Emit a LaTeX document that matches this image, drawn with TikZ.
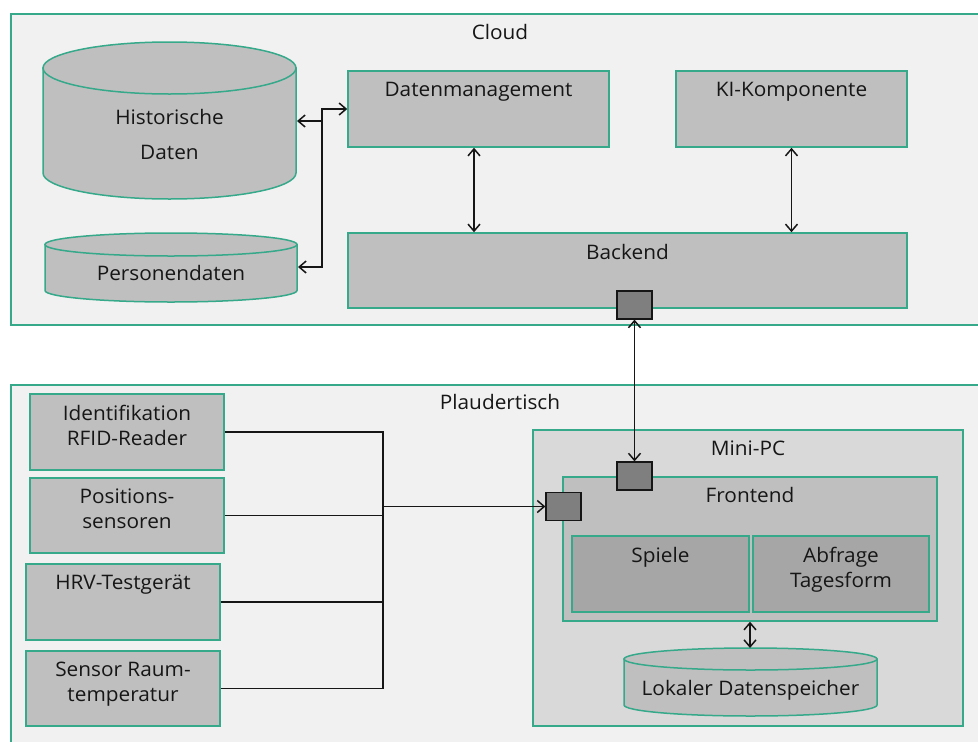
\documentclass[tikz,border=0pt]{standalone}
\usepackage{fontspec}
\setmainfont{Open Sans}[FakeStretch=1.04]
\usetikzlibrary{arrows.meta}

\definecolor{rahmen}{HTML}{35A98A}
\definecolor{flaeche}{HTML}{F1F1F1}
\definecolor{kasten}{HTML}{BFBFBF}
\definecolor{kastendunkel}{HTML}{A6A6A6}
\definecolor{kastenhell}{HTML}{D9D9D9}
\definecolor{anschluss}{HTML}{7F7F7F}
\definecolor{linie}{HTML}{161616}

% data store: centre x, top y, bottom y, x radius, y radius
\newcommand{\datenspeicher}[5]{%
  \filldraw[store] (#1-#4,#2) -- (#1-#4,#3) arc[start angle=180,end angle=360,x radius=#4,y radius=#5] -- (#1+#4,#2) -- cycle;
  \filldraw[store] (#1,#2) ellipse[x radius=#4,y radius=#5];}

\begin{document}
\begin{tikzpicture}[x=1pt, y=1pt, font=\fontsize{20}{25}\selectfont, text=linie,
    >={Straight Barb[length=7pt,width=12pt]},
    frame/.style={draw=rahmen, fill=flaeche, line width=1.5pt, anchor=north west, inner sep=0pt},
    box/.style={draw=rahmen, fill=kasten, line width=1.5pt, inner sep=0pt},
    title/.style={anchor=north, inner sep=0pt, yshift=-11.5pt, align=center},
    store/.style={draw=rahmen, fill=kasten, line width=1.5pt},
    port/.style={draw=linie, fill=anschluss, line width=1.2pt, minimum width=35pt, minimum height=28pt, inner sep=0pt},
    link/.style={draw=linie, line width=1.5pt}]
        \useasboundingbox (0,0) rectangle (978,-742);
        \fill[white] (0,0) rectangle (978,-742);

        % Cloud
        \node[frame, minimum width=990pt, minimum height=311pt] (cloud) at (10,-13) {};
        \node (cloudname) at (500,-32) {Cloud};

        \datenspeicher{169.5}{-68}{-173}{126.5}{26}
        \node[align=center] (hist) at (169.5,-134.5) {Historische\\[10pt]Daten};
        \datenspeicher{171}{-244.5}{-290.5}{126}{11.5}
        \node (pers) at (171,-273) {Personendaten};

        \node[box, minimum width=261pt, minimum height=76pt, label={[title]north:Datenmanagement}] (dm) at (478.5,-109) {};
        \node[box, minimum width=231pt, minimum height=76pt, label={[title]north:KI-Komponente}] (ki) at (791.5,-109) {};
        \node[box, minimum width=559pt, minimum height=75pt, label={[title]north:Backend}] (backend) at (627.5,-270.5) {};

        % Plaudertisch
        \node[frame, minimum width=990pt, minimum height=380pt] (tisch) at (10,-384) {};
        \node (tischname) at (500,-402) {Plaudertisch};

        \node[box, minimum width=194pt, minimum height=76pt, label={[title]north:Identifikation\\RFID-Reader}] (rfid) at (127,-432) {};
        \node[box, minimum width=194pt, minimum height=75pt, label={[title]north:Positions-\\sensoren}] (pos) at (127,-515.5) {};
        \node[box, minimum width=194pt, minimum height=76pt, label={[title]north:HRV-Testgerät}] (hrv) at (123,-602) {};
        \node[box, minimum width=194pt, minimum height=75pt, label={[title]north:Sensor Raum-\\temperatur}] (sensor) at (123,-688.5) {};

        \node[box, fill=kastenhell, minimum width=430pt, minimum height=296pt, label={[title]north:Mini-PC}] (minipc) at (748,-578) {};
        \node[box, minimum width=374pt, minimum height=144pt, label={[title,yshift=1pt]north:Frontend}] (frontend) at (750,-549) {};
        \node[box, fill=kastendunkel, minimum width=177pt, minimum height=76pt, label={[title]north:Spiele}] (spiele) at (660.5,-574) {};
        \node[box, fill=kastendunkel, minimum width=176pt, minimum height=76pt, label={[title]north:Abfrage\\Tagesform}] (abfrage) at (841,-574) {};

        \datenspeicher{750.5}{-659}{-705}{126.5}{11}
        \node (lokal) at (750.5,-690) {Lokaler Datenspeicher};

        % ports
        \node[port] (bport) at (634.5,-305) {};
        \node[port] (fport) at (634.5,-476) {};
        \node[port] (lport) at (563.5,-506.5) {};

        % connection points
        \coordinate (hbus) at (322,-121);
        \coordinate (histin) at (297,-121);
        \coordinate (persin) at (298,-267);
        \coordinate (lokalin) at (750,-648);
        \coordinate (bus) at (383,-506.5);

        \path[link,<->] (dm.west) -- (dm.west -| hbus) |- (persin);
        \path[link,->] (hbus) -- (histin);
        \path[link,<->] ([xshift=-4.5pt]dm.south) -- ([xshift=-4.5pt]dm.south |- backend.north);
        \path[link,<->] (ki.south) -- (ki.south |- backend.north);
        \path[link,<->] (bport) -- (fport);
        \path[link,<->] (frontend.south) -- (lokalin);

        \path[link] (rfid.east) -| (bus);
        \path[link] (pos.east) -- (pos.east -| bus);
        \path[link] (hrv.east) -- (hrv.east -| bus);
        \path[link] (sensor.east) -| (bus);
        \path[link,->] (bus) -- (lport);
    \end{tikzpicture}
\end{document}
